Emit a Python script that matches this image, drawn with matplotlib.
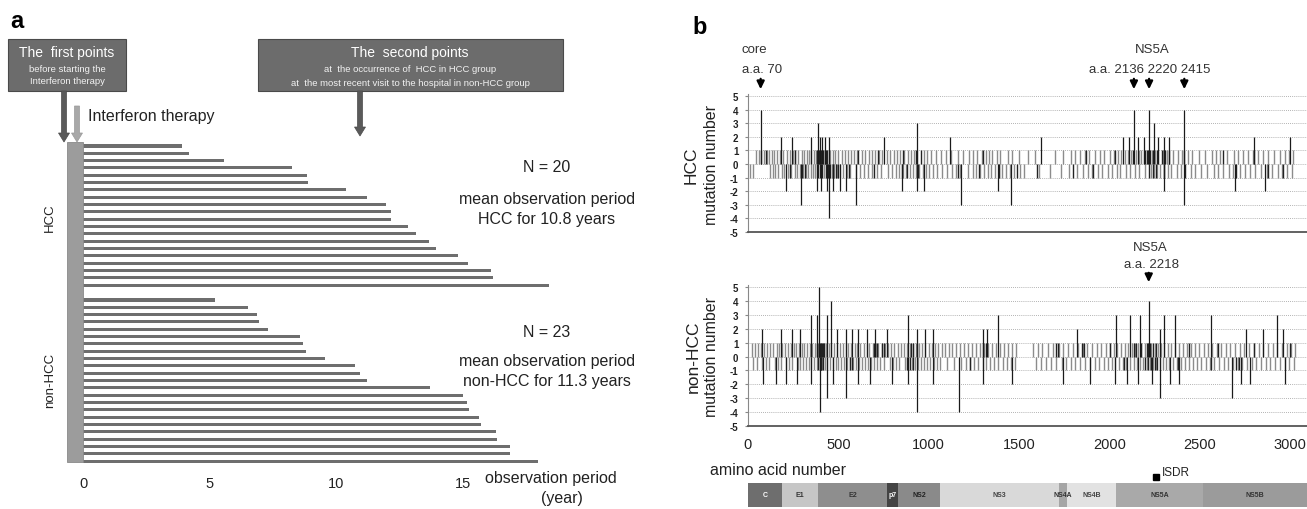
import matplotlib
matplotlib.use("Agg")
import matplotlib.pyplot as plt
from matplotlib.patches import Rectangle, FancyArrow

plt.rcParams["font.family"] = ["Liberation Sans", "DejaVu Sans"]

# ---------------- panel a data ----------------
hcc_years = [3.9, 4.2, 5.55, 8.25, 8.85, 8.9, 10.4, 11.2, 11.95, 12.15, 12.15, 12.85,
             13.15, 13.65, 13.95, 14.8, 15.2, 16.1, 16.2, 18.4]
nonhcc_years = [5.2, 6.5, 6.85, 6.95, 7.3, 8.55, 8.7, 8.8, 9.55, 10.75, 10.95, 11.2,
                13.7, 15.0, 15.15, 15.25, 15.65, 15.7, 16.3, 16.35, 16.85, 16.85, 17.95]
year_ticks = [0, 5, 10, 15]
group_labels = ["HCC", "non-HCC"]
group_n = ["N = 20", "N = 23"]
group_mean = ["HCC for 10.8 years", "non-HCC for 11.3 years"]

# ---------------- panel b data ----------------
aa_ticks = [0, 500, 1000, 1500, 2000, 2500, 3000]
mut_ticks = [-5, -4, -3, -2, -1, 0, 1, 2, 3, 4, 5]

hcc_up1 = [45, 62, 88, 104, 118, 132, 146, 160, 178, 196, 214, 232, 248, 262, 276, 298, 312,
           326, 338, 350, 364, 376, 398, 414, 436, 452, 468, 484, 500, 518, 536, 552, 570, 588,
           604, 632, 650, 668, 686, 702, 724, 742, 770, 788, 806, 824, 842, 866, 884, 902, 920,
           938, 972, 990, 1012, 1040, 1068, 1096, 1124, 1160, 1190, 1226, 1248, 1270, 1296, 1318,
           1336, 1352, 1378, 1396, 1440, 1462, 1498, 1552, 1590, 1700, 1742, 1786, 1812, 1836,
           1864, 1890, 1918, 1946, 1972, 2004, 2026, 2048, 2066, 2086, 2104, 2122, 2146, 2164,
           2178, 2192, 2236, 2254, 2272, 2296, 2318, 2352, 2378, 2402, 2436, 2460, 2496, 2528,
           2566, 2590, 2614, 2652, 2690, 2712, 2740, 2766, 2796, 2824, 2852, 2878, 2912, 2942,
           2970, 2994, 3016]
hcc_dn1 = [12, 28, 120, 138, 150, 166, 186, 202, 222, 240, 258, 272, 290, 306, 320, 334, 346,
           358, 372, 384, 402, 420, 438, 448, 466, 476, 492, 508, 526, 548, 566, 596, 620, 640,
           662, 684, 716, 738, 776, 796, 818, 838, 856, 876, 896, 914, 930, 948, 966, 984, 1004,
           1024, 1046, 1074, 1104, 1130, 1150, 1176, 1220, 1246, 1262, 1286, 1304, 1330, 1346,
           1366, 1388, 1404, 1426, 1450, 1470, 1504, 1528, 1610, 1672, 1730, 1776, 1820, 1856,
           1880, 1906, 1940, 1962, 1990, 2016, 2040, 2058, 2094, 2112, 2140, 2166, 2196, 2232,
           2248, 2262, 2280, 2304, 2326, 2344, 2372, 2394, 2452, 2474, 2510, 2538, 2578, 2604,
           2628, 2660, 2684, 2722, 2752, 2780, 2806, 2840, 2870, 2900, 2932, 2958, 2986, 3010]
hcc_dark_up1 = [70, 100, 260, 380, 386, 392, 400, 406, 416, 424, 432, 440, 610, 720, 860, 930,
                960, 1300, 1870, 2030, 2130, 2200, 2206, 2212, 2218, 2224, 2244, 2266, 2290,
                2310, 2330, 2414, 2630, 2800]
hcc_dark_dn1 = [230, 300, 318, 390, 396, 410, 430, 444, 456, 470, 486, 500, 560, 700, 850,
                880, 940, 1160, 1280, 1390, 1490, 1600, 1800, 1910, 2220, 2242, 2256, 2300,
                2420, 2700, 2880, 2960]
hcc_spike_aa = [70, 180, 242, 346, 385, 398, 412, 428, 446, 754, 938, 1118, 1621, 2076, 2110,
                2136, 2160, 2190, 2220, 2246, 2268, 2300, 2330, 2415, 2800, 3000,
                208, 295, 380, 403, 438, 450, 468, 507, 542, 600, 853, 934, 975, 1180, 1384,
                1453, 2300, 2415, 2698, 2864]
hcc_spike_val = [4, 2, 2, 2, 3, 2, 2, 2, 2, 2, 3, 2, 2, 2, 2,
                 4, 2, 2, 4, 3, 2, 2, 2, 4, 2, 2,
                 -2, -3, -2, -2, -2, -4, -2, -2, -2, -3, -2, -2, -2, -3, -2,
                 -3, -2, -3, -2, -2]

nonhcc_up1 = [20, 40, 58, 72, 90, 106, 122, 140, 158, 172, 190, 204, 220, 236, 252, 266, 282,
              298, 312, 328, 342, 356, 372, 388, 404, 418, 432, 448, 462, 476, 492, 508, 524,
              540, 556, 572, 590, 606, 622, 640, 656, 672, 690, 706, 722, 740, 758, 776, 792,
              810, 828, 846, 862, 878, 896, 914, 930, 948, 964, 982, 1000, 1018, 1036, 1054,
              1072, 1090, 1110, 1130, 1150, 1172, 1194, 1216, 1238, 1262, 1286, 1308, 1330,
              1352, 1374, 1396, 1418, 1440, 1462, 1484, 1580, 1604, 1630, 1660, 1690, 1720,
              1746, 1772, 1798, 1826, 1852, 1878, 1904, 1930, 1956, 1980, 2004, 2024, 2044,
              2064, 2084, 2104, 2124, 2142, 2160, 2178, 2196, 2214, 2232, 2250, 2268, 2286,
              2304, 2322, 2342, 2362, 2384, 2406, 2428, 2450, 2474, 2498, 2522, 2546, 2570,
              2594, 2618, 2644, 2670, 2696, 2722, 2748, 2774, 2800, 2826, 2852, 2878, 2904,
              2930, 2956, 2982, 3008, 3030]
nonhcc_dn1 = [30, 52, 80, 98, 114, 150, 166, 184, 210, 228, 244, 274, 290, 306, 320, 336, 350,
              366, 380, 396, 410, 426, 440, 456, 470, 486, 500, 516, 532, 548, 564, 580, 598,
              614, 630, 648, 664, 682, 698, 716, 732, 750, 784, 800, 820, 838, 870, 888, 906,
              922, 940, 956, 974, 992, 1010, 1028, 1046, 1064, 1100, 1140, 1180, 1206, 1228,
              1250, 1274, 1298, 1320, 1342, 1364, 1386, 1410, 1432, 1454, 1476, 1596, 1622,
              1650, 1676, 1706, 1736, 1760, 1786, 1812, 1840, 1866, 1892, 1918, 1944, 1968,
              1994, 2014, 2034, 2054, 2074, 2094, 2114, 2134, 2152, 2170, 2188, 2206, 2224,
              2242, 2260, 2278, 2296, 2314, 2332, 2352, 2372, 2396, 2418, 2440, 2462, 2486,
              2510, 2534, 2558, 2582, 2606, 2632, 2658, 2684, 2710, 2736, 2762, 2788, 2814,
              2840, 2866, 2892, 2918, 2944, 2970, 2996, 3020]
nonhcc_dark_up1 = [384, 392, 400, 406, 410, 416, 420, 700, 712, 740, 752, 900, 914, 938, 1300,
                   1320, 1704, 1716, 1846, 1858, 2004, 2136, 2150, 2176, 2206, 2212, 2226,
                   2240, 2256, 2440, 2600, 2800, 3000]
nonhcc_dark_dn1 = [390, 398, 402, 406, 416, 566, 578, 880, 896, 912, 1230, 2080, 2200, 2216,
                   2232, 2250, 2266, 2380, 2560, 2700, 2716]
nonhcc_spike_aa = [76, 180, 242, 288, 346, 380, 392, 438, 461, 491, 542, 576, 611, 657, 703,
                   772, 888, 934, 980, 1026, 1303, 1321, 1384, 1822, 2038, 2113, 2168, 2218,
                   2283, 2304, 2366, 2565, 2756, 2848, 2929, 2963,
                   81, 155, 208, 270, 346, 399, 438, 473, 542, 611, 676, 796, 888, 938, 1026,
                   1169, 1303, 1460, 1741, 1891, 2029, 2098, 2156, 2237, 2283, 2336, 2386,
                   2681, 2731, 2778, 2974]
nonhcc_spike_val = [2, 2, 2, 2, 3, 3, 5, 3, 4, 2, 2, 2, 2, 2, 2,
                    2, 3, 2, 2, 2, 2, 2, 3, 2, 3, 3, 3, 4,
                    2, 3, 3, 3, 2, 2, 3, 2,
                    -2, -2, -2, -2, -2, -4, -3, -2, -3, -2, -2, -2, -2, -4, -2,
                    -4, -2, -2, -2, -2, -2, -2, -2, -2, -3, -2, -2,
                    -3, -2, -2, -2]

gene_names = ["C", "E1", "E2", "p7", "NS2", "NS3", "NS4A", "NS4B", "NS5A", "NS5B"]
gene_start = [0, 188, 390, 769, 830, 1063, 1721, 1765, 2037, 2518]
gene_end = [188, 390, 769, 830, 1063, 1721, 1765, 2037, 2518, 3200]
isdr_aa = 2260

# ---------------- styles ----------------
gene_colors = ["#6e6e6e", "#c6c6c6", "#8e8e8e", "#444444", "#8a8a8a", "#d9d9d9",
               "#a6a6a6", "#e2e2e2", "#a9a9a9", "#9b9b9b"]
gene_text_colors = ["white", "#333", "#333", "white", "#222", "#444", "#333", "#444",
                    "#333", "#333"]

W, H = 1307, 510
fig = plt.figure(figsize=(W / 100, H / 100), dpi=100)


def axes_px(x0, y0, x1, y1):
    return fig.add_axes([x0 / W, 1 - y1 / H, (x1 - x0) / W, (y1 - y0) / H])


# ================= panel a =================
row_px = 7.32
ax_a = axes_px(60, 140, 600, 470)
yr_px = 25.33
ax_a.set_xlim((60 - 83) / yr_px, (600 - 83) / yr_px)
ax_a.set_ylim((470 - 147) / row_px, (140 - 147) / row_px)
hcc_rows = list(range(len(hcc_years)))
non_start = (301 - 147) / row_px
non_rows = [non_start + j for j in range(len(nonhcc_years))]
ax_a.barh(hcc_rows, hcc_years, left=0, height=0.42, color="#6e6e6e")
ax_a.barh(non_rows, nonhcc_years, left=0, height=0.42, color="#6e6e6e")
ax_a.add_patch(Rectangle((-16 / yr_px, (143 - 147) / row_px), 16 / yr_px, 320 / row_px,
                         facecolor="#9c9c9c", edgecolor="#8a8a8a", lw=0.6))
for s in ax_a.spines.values():
    s.set_visible(False)
ax_a.set_yticks([])
ax_a.set_xticks(year_ticks)
ax_a.set_xticklabels([str(t) for t in year_ticks], fontsize=10.5, color="#222")
ax_a.tick_params(axis="x", length=0, pad=5)

# ================= panel b =================
aa_px = 542 / 3000
xmax = (1307 - 748) / aa_px


def mut_axes(y5, ybot, up1, dn1, dup1, ddn1, sp_aa, sp_val, show_x):
    top = y5 - 0.15 * (ybot - y5) / 10
    ax = axes_px(748, top, 1307, ybot)
    ax.set_xlim(0, xmax)
    ax.set_ylim(-5, 5.15)
    ax.vlines(up1, 0, 1, colors="#8c8c8c", lw=1.0)
    ax.vlines(dn1, -1, 0, colors="#8c8c8c", lw=1.0)
    ax.vlines(dup1, 0, 1, colors="#222222", lw=1.0)
    ax.vlines(ddn1, -1, 0, colors="#222222", lw=1.0)
    ax.vlines(sp_aa, 0, sp_val, colors="#1a1a1a", lw=0.9)
    ax.set_yticks(mut_ticks)
    ax.set_yticklabels([str(t) for t in mut_ticks], fontsize=7, fontweight="bold",
                       color="#222")
    ax.yaxis.grid(True, linestyle=(0, (1, 1.5)), color="#9a9a9a", lw=0.6)
    ax.set_axisbelow(True)
    ax.tick_params(axis="y", length=2, pad=5, color="#888")
    ax.spines["top"].set_visible(False)
    ax.spines["right"].set_visible(False)
    ax.spines["left"].set_color("#888")
    ax.spines["left"].set_linewidth(0.8)
    ax.spines["bottom"].set_color("#555")
    ax.spines["bottom"].set_linewidth(1.3)
    if show_x:
        ax.set_xticks(aa_ticks)
        ax.set_xticklabels([str(t) for t in aa_ticks], fontsize=10.5, color="#222")
        ax.tick_params(axis="x", length=0, pad=8)
    else:
        ax.set_xticks([])
    return ax


ax_t = mut_axes(97, 233, hcc_up1, hcc_dn1, hcc_dark_up1, hcc_dark_dn1,
                hcc_spike_aa, hcc_spike_val, False)
ax_b = mut_axes(288, 427, nonhcc_up1, nonhcc_dn1, nonhcc_dark_up1, nonhcc_dark_dn1,
                nonhcc_spike_aa, nonhcc_spike_val, True)

ax_g = axes_px(748, 484, 1307, 508)
ax_g.set_xlim(0, xmax)
ax_g.set_ylim(-0.5, 0.5)
widths = [e - s for s, e in zip(gene_start, gene_end)]
ax_g.barh([0] * len(gene_names), widths, left=gene_start, height=1.0,
          color=gene_colors, edgecolor="none")
for name, s, e, tc in zip(gene_names, gene_start, gene_end, gene_text_colors):
    cx = (s + min(e, xmax)) / 2
    ax_g.text(cx, 0, name, ha="center", va="center", fontsize=5, fontweight="bold",
              color=tc)
ax_g.axis("off")
ax_g.plot([isdr_aa], [0.75], marker="s", color="black", markersize=5, clip_on=False)
ax_g.text(isdr_aa + 30, 0.95, "ISDR", fontsize=8.5, color="#222", va="center",
          ha="left", clip_on=False)

# ================= annotation layer (pixel coords) =================
ov = fig.add_axes([0, 0, 1, 1])
ov.set_xlim(0, W)
ov.set_ylim(H, 0)
ov.axis("off")

ov.text(17, 22, "a", fontsize=17, fontweight="bold", ha="center", va="center")
ov.text(700, 27, "b", fontsize=17, fontweight="bold", ha="center", va="center")

box_fc = "#6c6c6c"
ov.add_patch(Rectangle((8, 40), 118, 52, facecolor=box_fc, edgecolor="#4a4a4a", lw=0.8))
ov.text(67, 53, "The  first points", color="white", fontsize=10, ha="center", va="center")
ov.text(67, 70, "before starting the", color="#f2f2f2", fontsize=6.8, ha="center",
        va="center")
ov.text(67, 82, "Interferon therapy", color="#f2f2f2", fontsize=6.8, ha="center",
        va="center")

ov.add_patch(Rectangle((258, 40), 305, 52, facecolor=box_fc, edgecolor="#4a4a4a", lw=0.8))
ov.text(410, 53, "The  second points", color="white", fontsize=10, ha="center",
        va="center")
ov.text(410, 70, "at  the occurrence of  HCC in HCC group", color="#f2f2f2",
        fontsize=6.8, ha="center", va="center")
ov.text(410, 83, "at  the most recent visit to the hospital in non-HCC group",
        color="#f2f2f2", fontsize=6.8, ha="center", va="center")

ov.add_patch(FancyArrow(64, 92, 0, 51, width=5, head_width=11, head_length=9,
                        length_includes_head=True, facecolor="#5a5a5a",
                        edgecolor="#4a4a4a", lw=0.5))
ov.add_patch(FancyArrow(77, 107, 0, 36, width=5, head_width=11, head_length=9,
                        length_includes_head=True, facecolor="#a8a8a8",
                        edgecolor="#999999", lw=0.5))
ov.add_patch(FancyArrow(360, 92, 0, 45, width=5, head_width=11, head_length=9,
                        length_includes_head=True, facecolor="#5a5a5a",
                        edgecolor="#4a4a4a", lw=0.5))
ov.text(88, 117, "Interferon therapy", fontsize=11.5, ha="left", va="center", color="#222")

ov.text(50, 218, group_labels[0], rotation=90, fontsize=9.5, ha="center", va="center",
        color="#222")
ov.text(50, 380, group_labels[1], rotation=90, fontsize=9.5, ha="center", va="center",
        color="#222")

ov.text(547, 168, group_n[0], fontsize=11.5, ha="center", va="center", color="#222")
ov.text(547, 200, "mean observation period", fontsize=11.5, ha="center", va="center",
        color="#222")
ov.text(547, 220, group_mean[0], fontsize=11.5, ha="center", va="center", color="#222")
ov.text(547, 333, group_n[1], fontsize=11.5, ha="center", va="center", color="#222")
ov.text(547, 362, "mean observation period", fontsize=11.5, ha="center", va="center",
        color="#222")
ov.text(547, 382, group_mean[1], fontsize=11.5, ha="center", va="center", color="#222")
ov.text(485, 479, "observation period", fontsize=11.5, ha="left", va="center",
        color="#222")
ov.text(562, 499, "(year)", fontsize=11.5, ha="center", va="center", color="#222")

# panel b labels
ov.text(691, 165, "HCC", rotation=90, fontsize=12.5, ha="center", va="center",
        color="#222")
ov.text(712, 165, "mutation number", rotation=90, fontsize=11.5, ha="center",
        va="center", color="#222")
ov.text(693, 357, "non-HCC", rotation=90, fontsize=12.5, ha="center", va="center",
        color="#222")
ov.text(712, 357, "mutation number", rotation=90, fontsize=11.5, ha="center",
        va="center", color="#222")
ov.text(710, 471, "amino acid number", fontsize=11.5, ha="left", va="center",
        color="#222")


def px_of(aa):
    return 748 + aa * aa_px


ov.text(742, 50, "core", fontsize=9.5, ha="left", va="center", color="#333")
ov.text(742, 70, "a.a. 70", fontsize=9.5, ha="left", va="center", color="#333")
ov.text(1152, 50, "NS5A", fontsize=9.5, ha="center", va="center", color="#333")
ov.text(1150, 70, "a.a. 2136 2220 2415", fontsize=9.5, ha="center", va="center",
        color="#333")
ov.text(1150, 248, "NS5A", fontsize=9.5, ha="center", va="center", color="#333")
ov.text(1152, 265, "a.a. 2218", fontsize=9.5, ha="center", va="center", color="#333")

for aa in [70, 2136, 2220, 2415]:
    ov.annotate("", xy=(px_of(aa), 93), xytext=(px_of(aa), 77),
                arrowprops=dict(arrowstyle="-|>,head_length=0.45,head_width=0.22",
                                color="black", lw=1.6))
ov.annotate("", xy=(px_of(2218), 286), xytext=(px_of(2218), 271),
            arrowprops=dict(arrowstyle="-|>,head_length=0.45,head_width=0.22",
                            color="black", lw=1.6))

fig.savefig("out.png", dpi=100)
